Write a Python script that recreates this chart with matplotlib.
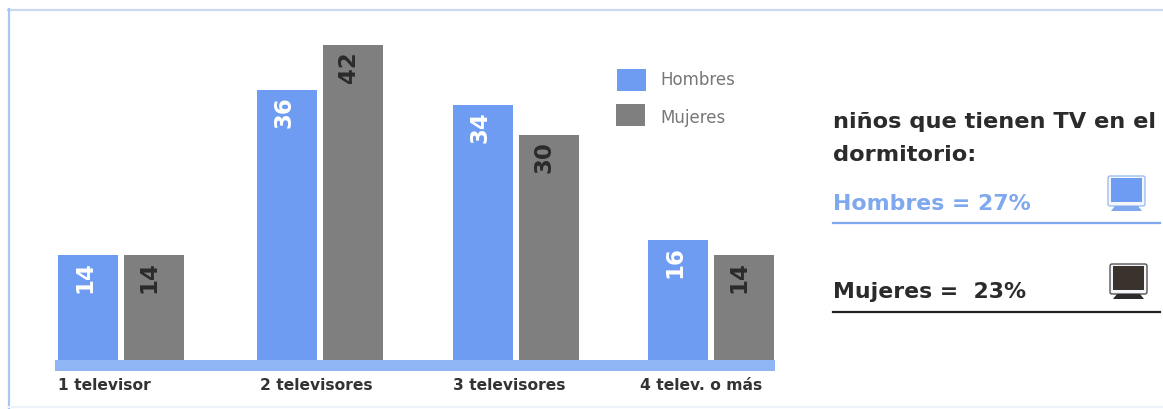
import numpy as np
import matplotlib
matplotlib.use("Agg")
import matplotlib.pyplot as plt
from matplotlib.patches import Rectangle, Polygon, FancyBboxPatch

categories = ["1 televisor", "2 televisores", "3 televisores", "4 telev. o más"]
hombres = [14, 36, 34, 16]
mujeres = [14, 42, 30, 14]
series_names = ["Hombres", "Mujeres"]
heading = "niños que tienen TV en el\ndormitorio:"
stat_hombres = "Hombres = 27%"
stat_mujeres = "Mujeres =  23%"

BLUE = "#6D9CF2"
BAND = "#8FB5F5"
GRAY = "#7F7F7F"
DARK = "#2B2B2B"
W, H = 1163, 409
plt.rcParams["font.family"] = ["DejaVu Sans"]

fig = plt.figure(figsize=(W / 100, H / 100), dpi=100, facecolor="white")

ov = fig.add_axes([0, 0, 1, 1], zorder=0)
ov.set_xlim(0, W); ov.set_ylim(H, 0); ov.axis("off")
ov.plot([8, W], [9.5, 9.5], color="#C9D9F2", lw=1.6)
ov.plot([8.5, 8.5], [9, H], color="#A9C6F5", lw=1.6)
ov.plot([8, W], [407, 407], color="#EEF2FA", lw=1.5)

# bars: x axis runs in pixels from the band's left edge, one unit of value = 7.5 px
ax = fig.add_axes([55 / W, 1 - 360 / H, 720 / W, 350 / H], zorder=1)
ax.patch.set_alpha(0)
ax.set_xlim(55, 775)
ax.set_ylim(0, 350 / 7.5)
ax.axis("off")
centers = np.array([121, 320, 515.5, 710.5])
bw, off = 60, 33
ax.bar(centers - off, hombres, bw, color=BLUE)
ax.bar(centers + off, mujeres, bw, color=GRAY)
label_x = [58, 260, 453, 640]
for i, c in enumerate(centers):
    ax.annotate(str(hombres[i]), (c - off, hombres[i]), xytext=(-3, -6), textcoords="offset pixels",
                rotation=90, ha="center", va="top", color="white", fontsize=16.5, fontweight="bold")
    ax.annotate(str(mujeres[i]), (c + off, mujeres[i]), xytext=(-5, -6), textcoords="offset pixels",
                rotation=90, ha="center", va="top", color=DARK, fontsize=16.5, fontweight="bold")
    ov.text(label_x[i], 385, categories[i], fontsize=11.2, fontweight="bold", color="#333333", va="center", ha="left")

ov.add_patch(Rectangle((55, 360), 720, 11, color=BAND, lw=0))

# key
ov.add_patch(Rectangle((617, 69), 29, 22, color=BLUE, lw=0))
ov.add_patch(Rectangle((616, 104), 29, 22, color=GRAY, lw=0))
ov.text(660, 80, series_names[0], fontsize=12, color="#777777", va="center")
ov.text(660, 118, series_names[1], fontsize=12, color="#777777", va="center")

# right panel
ov.text(833, 122, heading.split("\n")[0], fontsize=16.2, fontweight="bold", color=DARK, va="center")
ov.text(833, 155, heading.split("\n")[1], fontsize=16.2, fontweight="bold", color=DARK, va="center")
ov.text(833, 204, stat_hombres, fontsize=15.8, fontweight="bold", color="#7FA8EE", va="center")
ov.plot([833, 1160], [223, 223], color="#7FA8EE", lw=1.6)
ov.text(833, 292, stat_mujeres, fontsize=15.8, fontweight="bold", color=DARK, va="center")
ov.plot([833, 1160], [312, 312], color="#222222", lw=1.6)


def tv(x0, y0, screen, edge, base):
    ov.add_patch(FancyBboxPatch((x0, y0), 37, 30, boxstyle="round,pad=0,rounding_size=2",
                                fc="#F4F6FA", ec=edge, lw=1))
    ov.add_patch(Rectangle((x0 + 3, y0 + 2), 31, 24, color=screen, lw=0))
    ov.add_patch(Polygon([(x0 + 7, y0 + 30), (x0 + 30, y0 + 30), (x0 + 34, y0 + 35), (x0 + 3, y0 + 35)],
                         color=base, lw=0))


tv(1108, 176, "#6D9CF2", "#9DBDF5", "#7FA8EE")
tv(1110, 264, "#3A322C", "#555555", "#2B2B2B")

fig.savefig("out.png", dpi=100, facecolor="white")
